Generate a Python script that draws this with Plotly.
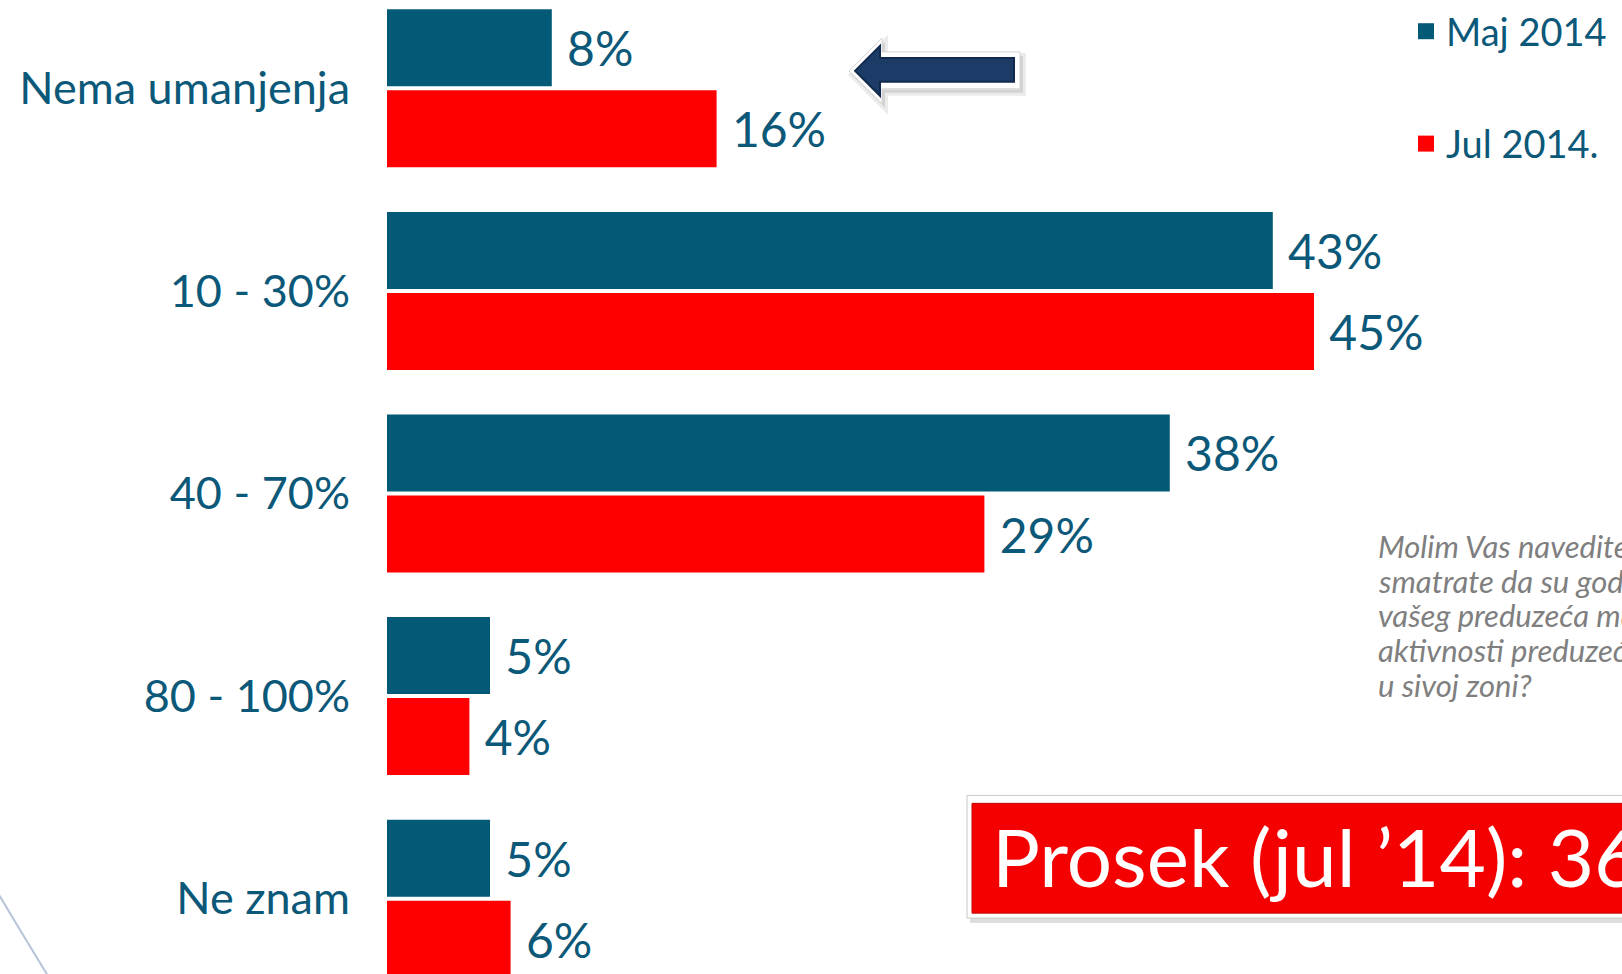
import plotly.graph_objects as go

categories = ["Nema umanjenja", "10 - 30%", "40 - 70%", "80 - 100%", "Ne znam"]
maj_2014 = [8, 43, 38, 5, 5]
jul_2014 = [16, 45, 29, 4, 6]
series_names = ["Maj 2014", "Jul 2014."]
average_text = "Prosek (jul ’14): 36%"
question_lines = [
    "Molim Vas navedite za koliko procenata",
    "smatrate da su godišnji prihodi",
    "vašeg preduzeća manji zbog",
    "aktivnosti preduzeća koja posluju",
    "u sivoj zoni?",
]

BLUE = "#035a77"
RED = "#ff0000"
TXT = "#0b5878"
FONT = "Lato"

W, H = 1622, 974
L = 387  # left margin in px
PW = W - L


def px(x):
    return (x - L) / PW


def py(y):
    return 1 - y / H


fig = go.Figure()
for name, vals, col in [(series_names[0], maj_2014, BLUE), (series_names[1], jul_2014, RED)]:
    fig.add_trace(go.Bar(
        y=categories, x=vals, name=name, orientation="h",
        marker=dict(color=col, line=dict(width=0)),
        text=[f"{v}%" for v in vals], texttemplate=" %{text}",
        textposition="outside", constraintext="none", cliponaxis=False,
        textfont=dict(family=FONT, size=48, color=TXT),
        showlegend=False, hoverinfo="skip",
    ))
# legend entries with larger square symbols
for name, col in [(series_names[0], BLUE), (series_names[1], RED)]:
    fig.add_trace(go.Scatter(
        x=[None], y=[None], mode="markers", name=name, legendgroup=name,
        marker=dict(symbol="square", size=18, color=col), hoverinfo="skip",
    ))

px_per_unit = 20.6
cat_px = 203.0
c0 = 86.5
r0 = -c0 / cat_px
r1 = r0 + H / cat_px

fig.update_layout(
    width=W, height=H,
    margin=dict(l=L, r=0, t=0, b=0),
    paper_bgcolor="white", plot_bgcolor="white",
    barmode="group", bargap=0.2, bargroupgap=0.05,
    xaxis=dict(range=[0, PW / px_per_unit], visible=False, fixedrange=True),
    yaxis=dict(type="category", categoryarray=categories, range=[r1, r0],
               showgrid=False, showline=False, zeroline=False, ticks="",
               ticklabelstandoff=36, fixedrange=True,
               tickfont=dict(family=FONT, size=45, color=TXT)),
    legend=dict(x=px(1406), y=1.0 + 2 / H, xanchor="left", yanchor="top",
                font=dict(family=FONT, size=38, color=TXT),
                tracegroupgap=60, bgcolor="rgba(0,0,0,0)"),
    showlegend=True,
)

# Arrow pointing left
outer = [(849, 69), (882, 36), (882, 50), (1020, 50), (1020, 87), (882, 87), (882, 102)]
inner = [(855, 69), (880, 44), (880, 56), (1014, 56), (1014, 80), (880, 80), (880, 94)]


def path_of(points, dx=0, dy=0):
    return "M " + " L ".join(f"{px(x + dx):.5f},{py(y + dy):.5f}" for x, y in points) + " Z"


shapes = []
shapes.append(dict(type="path", xref="paper", yref="paper", path=path_of(outer, 3, 4),
                   fillcolor="rgba(0,0,0,0.10)", line=dict(color="rgba(0,0,0,0.08)", width=6)))
shapes.append(dict(type="path", xref="paper", yref="paper", path=path_of(outer),
                   fillcolor="white", line=dict(color="#d4d4d4", width=1)))
shapes.append(dict(type="path", xref="paper", yref="paper", path=path_of(inner),
                   fillcolor="#1c3b67", line=dict(color="#11294b", width=2)))

# Red average box
shapes.append(dict(type="rect", xref="paper", yref="paper",
                   x0=px(970), x1=px(1660), y0=py(800), y1=py(923),
                   fillcolor="rgba(0,0,0,0.13)", line=dict(width=0)))
shapes.append(dict(type="rect", xref="paper", yref="paper",
                   x0=px(967), x1=px(1660), y0=py(795), y1=py(918),
                   fillcolor="white", line=dict(color="#c8c8c8", width=1)))
shapes.append(dict(type="rect", xref="paper", yref="paper",
                   x0=px(972), x1=px(1660), y0=py(803), y1=py(913),
                   fillcolor="#f40000", line=dict(color="#c00000", width=1)))

# decorative line bottom-left
shapes.append(dict(type="path", xref="paper", yref="paper",
                   path=f"M {px(-2):.5f},{py(893):.5f} Q {px(20):.5f},{py(930):.5f} {px(48):.5f},{py(976):.5f}",
                   line=dict(color="#b8c4d8", width=2)))

fig.update_layout(shapes=shapes)

fig.add_annotation(xref="paper", yref="paper", x=px(990), y=py(856), xanchor="left", yanchor="middle",
                   text=average_text, showarrow=False,
                   font=dict(family=FONT, size=80, color="white"))

line_y0, line_dy = 545, 34.8
for i, line in enumerate(question_lines):
    fig.add_annotation(xref="paper", yref="paper", x=px(1376), y=py(line_y0 + i * line_dy),
                       xanchor="left", yanchor="middle", text=line, showarrow=False, align="left",
                       font=dict(family=FONT, size=31, color="#7f7f7f", style="italic"))

fig.write_html("out.html", config={"displayModeBar": False},
               post_script="document.body.style.margin='0';document.body.style.overflow='hidden';")
